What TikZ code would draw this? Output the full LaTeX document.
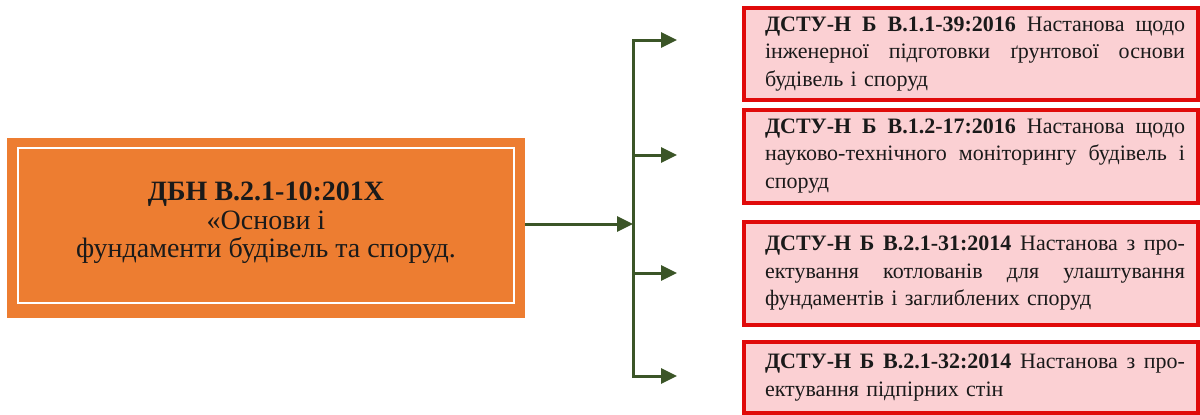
\documentclass[tikz,border=0pt]{standalone}
\usepackage{fontspec}
\setmainfont{Liberation Serif}
\usetikzlibrary{arrows.meta}
\definecolor{orfill}{HTML}{ED7D31}
\definecolor{pinkfill}{HTML}{FBD0D3}
\definecolor{redline}{HTML}{E00A0A}
\definecolor{conn}{HTML}{3B5527}
\definecolor{ink}{HTML}{1A1A1A}
\newcommand{\jline}[1]{\leavevmode\hbox to 420pt{\spaceskip=0.25em plus 1fil\relax\xspaceskip=\spaceskip #1}\\}
\tikzset{
  orangebox/.style={fill=orfill, draw=none, minimum width=518pt, minimum height=180pt, inner sep=0pt},
  maintext/.style={align=center, text=ink, font=\fontsize{28}{28.5}\selectfont, inner sep=0pt},
  stdbox/.style={fill=pinkfill, draw=redline, line width=4pt, minimum width=454pt, text width=428pt,
     inner xsep=13pt, inner ysep=0pt, align=left, text=ink, font=\fontsize{22}{27.5}\selectfont,
     execute at begin node={\leftskip=8pt}},
  connline/.style={draw=conn, line width=3pt},
  connarrow/.style={draw=conn, line width=3pt, -{Triangle[length=16pt,width=15pt]}},
}
\begin{document}
\begin{tikzpicture}[x=1pt,y=-1pt]
\useasboundingbox (0,0) rectangle (1200,415);
% main box
\node[orangebox] (main) at (266,228) {};
\draw[white, line width=2pt] ([shift={(11,10)}]main.north west) rectangle ([shift={(-11,-15)}]main.south east);
\node[maintext] (maint) at (266,223) {\textbf{ДБН В.2.1-10:201Х}\\«Основи і\\фундаменти будівель та споруд.};
% standards boxes
\node[stdbox, minimum height=92pt] (s1) at (971,54) {\jline{\textbf{ДСТУ-Н Б В.1.1-39:2016} Настанова щодо}\jline{інженерної підготовки ґрунтової основи}будівель і споруд};
\node[stdbox, minimum height=93pt] (s2) at (971,156) {\jline{\textbf{ДСТУ-Н Б В.1.2-17:2016} Настанова щодо}\jline{науково-технічного моніторингу будівель і}споруд};
\node[stdbox, minimum height=103pt] (s3) at (971,273.5) {\jline{\textbf{ДСТУ-Н Б В.2.1-31:2014} Настанова з про-}\jline{ектування котлованів для улаштування}фундаментів і заглиблених споруд};
\node[stdbox, minimum height=71pt] (s4) at (971,377.5) {\jline{\textbf{ДСТУ-Н Б В.2.1-32:2014} Настанова з про-}ектування підпірних стін};
% connectors
\coordinate (hub) at (633,224);
\coordinate (b1) at (633,40);
\coordinate (b2) at (633,155);
\coordinate (b3) at (633,273);
\coordinate (b4) at (633,376);
\coordinate (a1) at (677,40);
\coordinate (a2) at (677,155);
\coordinate (a3) at (677,273);
\coordinate (a4) at (677,376);
\draw[connarrow] (main.east |- hub) -- (hub);
\draw[connline, line cap=rect] (b1) -- (b4);
\draw[connarrow] (b1) -- (a1);
\draw[connarrow] (b2) -- (a2);
\draw[connarrow] (b3) -- (a3);
\draw[connarrow] (b4) -- (a4);
\end{tikzpicture}
\end{document}
